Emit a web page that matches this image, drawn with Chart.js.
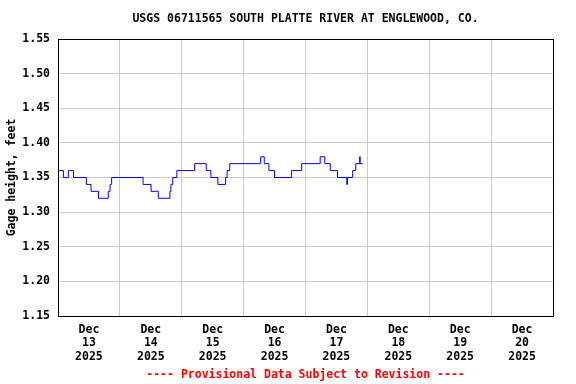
<!DOCTYPE html>
<html>
<head>
<meta charset="utf-8">
<script src="https://cdn.jsdelivr.net/npm/chart.js@4/dist/chart.umd.min.js"></script>
<style>
  html, body { margin: 0; padding: 0; background: #fff; }
  canvas { display: block; }
</style>
</head>
<body>
<canvas id="gageChart" width="576" height="384"></canvas>
<script>
// Gage height readings, each value holds from its hour until the next one
// (hours counted from Dec 13 2025 00:00)
const changeHours = [0, 2.1, 4.0, 6.0, 11.0, 12.8, 15.7, 19.5, 20.2, 20.8,
    33.0, 36.1, 38.9, 43.4, 43.8, 44.5, 46.1, 53.0, 57.5, 59.3,
    62.0, 65.0, 65.6, 66.6, 78.6, 80.0, 81.8, 84.0, 90.6, 94.5,
    101.7, 103.5, 105.6, 108.4, 112.0, 112.3, 114.3, 115.5, 117.0, 117.2, 118.2];
const gageHeight = [1.36, 1.35, 1.36, 1.35, 1.34, 1.33, 1.32, 1.33, 1.34, 1.35,
    1.34, 1.33, 1.32, 1.33, 1.34, 1.35, 1.36, 1.37, 1.36, 1.35,
    1.34, 1.35, 1.36, 1.37, 1.38, 1.37, 1.36, 1.35, 1.36, 1.37,
    1.38, 1.37, 1.36, 1.35, 1.34, 1.35, 1.36, 1.37, 1.38, 1.37, 1.37];

const dayLabels = ['13', '14', '15', '16', '17', '18', '19', '20'];
const monthLabel = 'Dec';
const yearLabel = '2025';
const yTicks = [1.15, 1.20, 1.25, 1.30, 1.35, 1.40, 1.45, 1.50, 1.55];

const FONT = { family: '"DejaVu Sans Mono", monospace', size: 11.5, weight: 'bold', lineHeight: 1.15 };

// grid every midnight, labels every noon
const hourTicks = [];
for (let h = 0; h <= dayLabels.length * 24; h += 12) hourTicks.push(h);

const frameBox = {
    id: 'frameBox',
    afterDraw(chart) {
        const a = chart.chartArea, ctx = chart.ctx;
        ctx.save();
        ctx.strokeStyle = '#000';
        ctx.lineWidth = 1;
        ctx.strokeRect(Math.round(a.left) + 0.5, Math.round(a.top) + 0.5,
            Math.round(a.right - a.left), Math.round(a.bottom - a.top));
        ctx.restore();
    }
};

new Chart(document.getElementById('gageChart'), {
    type: 'line',
    data: {
        datasets: [{
            data: changeHours.map((h, i) => ({ x: h, y: gageHeight[i] })),
            borderColor: '#0000ff',
            borderWidth: 1,
            pointRadius: 0,
            stepped: true,
            fill: false
        }]
    },
    options: {
        responsive: false,
        animation: false,
        layout: { padding: { left: 0, right: 23, top: 0, bottom: 0 } },
        plugins: {
            legend: { display: false },
            tooltip: { enabled: false },
            title: {
                display: true,
                text: 'USGS 06711565 SOUTH PLATTE RIVER AT ENGLEWOOD, CO.',
                color: '#000',
                font: FONT,
                fullSize: false,
                padding: { top: 12.4, bottom: 13.375 }
            },
            subtitle: {
                display: true,
                position: 'bottom',
                text: '---- Provisional Data Subject to Revision ----',
                color: '#ff0000',
                font: FONT,
                fullSize: false,
                padding: { top: 0, bottom: 2.775 }
            }
        },
        scales: {
            x: {
                type: 'linear',
                min: 0,
                max: dayLabels.length * 24,
                afterBuildTicks: s => { s.ticks = hourTicks.map(v => ({ value: v })); },
                afterFit: s => { s.height = 52; },
                ticks: {
                    autoSkip: false,
                    maxRotation: 0,
                    color: '#000',
                    font: FONT,
                    padding: 7.5,
                    callback: v => v % 24 === 12 ? [monthLabel, dayLabels[(v - 12) / 24], yearLabel] : ''
                },
                grid: {
                    drawTicks: false,
                    color: c => (c.tick && c.tick.value % 24 === 0) ? '#cccccc' : 'rgba(0,0,0,0)'
                },
                border: { color: '#000' }
            },
            y: {
                min: 1.15,
                max: 1.55,
                afterBuildTicks: s => { s.ticks = yTicks.map(v => ({ value: v })); },
                afterFit: s => { s.width = 58; },
                ticks: {
                    color: '#000',
                    font: FONT,
                    padding: 8,
                    callback: v => v.toFixed(2)
                },
                grid: { drawTicks: false, color: '#cccccc' },
                border: { color: '#000' },
                title: {
                    display: true,
                    text: 'Gage height, feet',
                    color: '#000',
                    font: FONT,
                    padding: { top: 5, bottom: 0 }
                }
            }
        }
    },
    plugins: [frameBox]
});
</script>
</body>
</html>
